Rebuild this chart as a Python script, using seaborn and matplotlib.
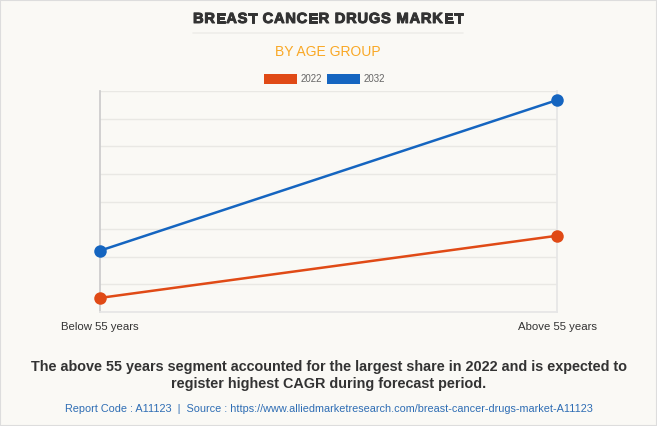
import pandas as pd
import seaborn as sns
import matplotlib.pyplot as plt
import matplotlib.patheffects as pe

# values (grid units, axis labels hidden in the original)
age_groups = ['Below 55 years', 'Above 55 years']
years = ['2022', '2032']
values_2022 = [0.51, 2.76]
values_2032 = [2.22, 7.67]
colors = {'2022': '#E04A16', '2032': '#1565C0'}

df = pd.DataFrame({
    'age': age_groups * 2,
    'year': ['2022'] * 2 + ['2032'] * 2,
    'value': values_2022 + values_2032,
})

W, H = 657, 426
bg = '#FAF9F5'
sns.set_theme(style='white')
plt.rcParams['font.family'] = ['Liberation Sans', 'DejaVu Sans']


def px(x, y):
    return x / W, 1 - y / H


def spaced_text(fig, text, x0, x1, y, **kw):
    '''draw text letter by letter so it fills x0..x1 (pixels)'''
    r = fig.canvas.get_renderer()
    arts = [fig.text(0, 0, c, va='center', ha='left', **kw) for c in text]
    widths = [a.get_window_extent(r).width for a in arts]
    gap = (x1 - x0 - sum(widths)) / (len(text) - 1)
    x = x0
    for a, w in zip(arts, widths):
        a.set_position(px(x, y))
        x += w + gap


fig = plt.figure(figsize=(W / 100, H / 100), dpi=100, facecolor=bg)
ax = fig.add_axes([100 / W, 1 - 312 / H, 457 / W, 221 / H])
ax.set_facecolor(bg)

sns.lineplot(data=df, x='age', y='value', hue='year', palette=colors,
             marker='o', markersize=9, markeredgewidth=0, linewidth=1.8,
             legend=False, ax=ax, clip_on=False, zorder=3)

ax.set_xlim(0, 1)
ax.set_ylim(0, 8)
ax.set_yticks(range(0, 9))
ax.yaxis.grid(True, color='#E9E8E4', linewidth=1)
ax.tick_params(axis='y', length=8, color='#E9E8E4', labelleft=False)
ax.tick_params(axis='x', length=0, labelsize=8.2, labelcolor='#333333', pad=7)
ax.set_xlabel('')
ax.set_ylabel('')
ax.spines['top'].set_visible(False)
ax.spines['left'].set_color('#CCCCCC')
ax.spines['right'].set_color('#E6E6E6')
ax.spines['bottom'].set_color('#E6E6E6')

# titles
spaced_text(fig, 'BREAST CANCER DRUGS MARKET', 193, 463, 19,
            fontsize=10.6, fontweight='bold', color='#333333',
            path_effects=[pe.withStroke(linewidth=0.7, foreground='#333333')])
fig.add_artist(plt.Line2D([193 / W, 463 / W], [1 - 33 / H] * 2, color='#EEEEEA', linewidth=1.2))
fig.text(*px(328, 52), 'BY AGE GROUP', ha='center', va='center',
         fontsize=10, color='#F9A825')

# legend
for x0, yr in [(264, '2022'), (327, '2032')]:
    fig.add_artist(plt.Rectangle(px(x0, 84), 33 / W, 10 / H,
                                 facecolor=colors[yr], edgecolor='none'))
    fig.text(*px(x0 + 37, 78.5), yr, ha='left', va='center',
             fontsize=7, color='#666666')

# footer
fig.text(*px(329, 375.5),
         'The above 55 years segment accounted for the largest share in 2022 and is expected to\n'
         'register highest CAGR during forecast period.',
         ha='center', va='center', fontsize=10.4, fontweight='bold', color='#333333',
         linespacing=1.3)
fig.text(*px(329, 409),
         'Report Code : A11123  |  Source : https://www.alliedmarketresearch.com/breast-cancer-drugs-market-A11123',
         ha='center', va='center', fontsize=7.8, color='#2E6DB4')

fig.patches.append(plt.Rectangle((0, 0), 1, 1, transform=fig.transFigure, fill=False,
                                 edgecolor='#DDDDDD', linewidth=1.5))

fig.savefig('out.png', dpi=100, facecolor=bg)
